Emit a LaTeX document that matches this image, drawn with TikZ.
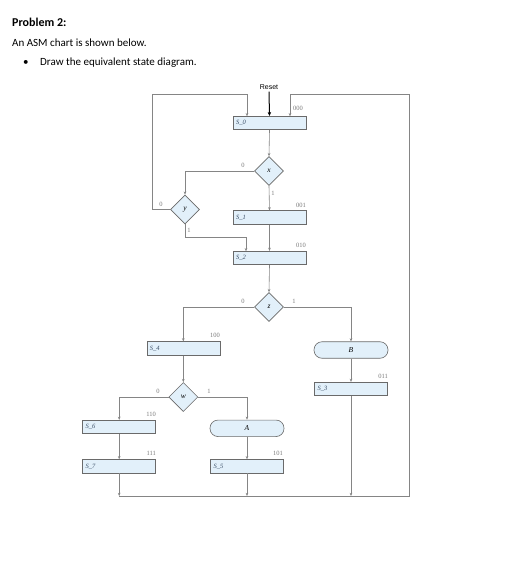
\documentclass[tikz,border=0pt]{standalone}
\usepackage{fontspec}
\setmainfont{Carlito}
\newfontfamily\chartserif{Liberation Serif}
\newfontfamily\chartsans{Liberation Sans}
\usetikzlibrary{shapes.geometric,arrows.meta}
\definecolor{boxfill}{HTML}{E2F0FA}
\definecolor{boxline}{HTML}{6A6A6A}
\definecolor{wire}{HTML}{858585}
\definecolor{codegray}{HTML}{7A7A7A}
\definecolor{statetext}{HTML}{3A4E66}
\begin{document}
\begin{tikzpicture}[x=1pt,y=-1pt,
  statebox/.style={draw=boxline, fill=boxfill, line width=0.6pt, minimum height=13.5pt,
     text width=67pt, inner xsep=3pt, inner ysep=0pt, align=left,
     font=\chartserif\itshape\fontsize{6.5}{7}\selectfont, text=statetext},
  decbox/.style={diamond, draw=boxline, fill=boxfill, line width=0.6pt, minimum width=29pt,
     minimum height=29pt, inner sep=0pt, font=\chartserif\itshape\fontsize{7.5}{8}\selectfont},
  outbox/.style={draw=boxline, fill=boxfill, line width=0.6pt, rounded corners=8pt,
     minimum width=74pt, minimum height=16.5pt, inner sep=0pt,
     font=\chartserif\itshape\fontsize{7.5}{8}\selectfont},
  wireline/.style={draw=wire, line width=0.6pt},
  conn/.style={wireline, -{Stealth[length=3.2pt,width=2.6pt]}},
  code/.style={font=\chartserif\fontsize{6.5}{7}\selectfont, text=codegray, inner sep=0pt},
  branch/.style={font=\chartserif\fontsize{6.5}{7}\selectfont, text=codegray, inner sep=0pt},
  hdr/.style={anchor=west, inner sep=0pt, font=\fontsize{11}{13}\selectfont}
]
\useasboundingbox (0,0) rectangle (504,580);
\fill[white] (0,0) rectangle (504,580);

% header
\node[hdr, font=\bfseries\fontsize{12}{14}\selectfont] (title) at (12,22) {Problem 2:};
\node[hdr] (intro) at (12,43) {An ASM chart is shown below.};
\node[hdr] (bullet) at (23,63) {•};
\node[hdr] (task) at (40,63) {Draw the equivalent state diagram.};

% states
\node[statebox] (s0) at (269.5,123) {S\_0};
\node[decbox] (dx) at (269,171) {x};
\node[decbox] (dy) at (185,209.5) {y};
\node[statebox] (s1) at (269.5,217.5) {S\_1};
\node[statebox] (s2) at (269.5,258) {S\_2};
\node[decbox] (dz) at (269,307) {z};
\node[statebox] (s4) at (183.3,348.5) {S\_4};
\node[outbox] (B) at (351,350) {B};
\node[statebox] (s3) at (351,389) {S\_3};
\node[decbox] (dw) at (183.3,397) {w};
\node[statebox] (s6) at (119.2,427) {S\_6};
\node[outbox] (A) at (247,428.3) {A};
\node[statebox] (s7) at (119.2,466.3) {S\_7};
\node[statebox] (s5) at (247,466.3) {S\_5};

% codes
\node[code, anchor=west] (c000) at (293,108) {000};
\node[code, anchor=east] (c001) at (306,205) {001};
\node[code, anchor=east] (c010) at (306,245) {010};
\node[code, anchor=east] (c100) at (220,335) {100};
\node[code, anchor=east] (c011) at (388,376.5) {011};
\node[code, anchor=east] (c110) at (156,414) {110};
\node[code, anchor=east] (c111) at (156,453) {111};
\node[code, anchor=east] (c101) at (283,453) {101};

% reset
\node[font=\chartsans\fontsize{7}{8}\selectfont, inner sep=0pt] (reset) at (269,87) {Reset};
\draw[black, line width=1pt, -{Stealth[length=4pt,width=3.5pt]}] (reset.south) ++(0,2) -- (s0.north);

% coordinates for bends
\coordinate (ltop) at (152,94);
\coordinate (s0inL) at (247,116.25);
\coordinate (s0inR) at (290,116.25);
\coordinate (yturn) at (246,237);
\coordinate (s2in) at (246,251.25);
\coordinate (bl) at (119.2,496);
\coordinate (br) at (409,496);
\coordinate (rtop) at (409,94);

% connectors
\draw[conn] (s0.south) -- (dx.north);
\draw[conn] (dx.west) -| (dy.north);
\draw[conn] (dx.south) -- (s1.north);
\draw[conn] (s1.south) -- (s2.north);
\draw[conn] (dy.west) -| (ltop) -| (s0inL);
\draw[conn] (dy.south) |- (yturn) -- (s2in);
\draw[conn] (s2.south) -- (dz.north);
\draw[conn] (dz.west) -| (s4.north);
\draw[conn] (dz.east) -| (B.north);
\draw[conn] (B.south) -- (s3.north);
\draw[conn] (s4.south) -- (dw.north);
\draw[conn] (dw.west) -| (s6.north);
\draw[conn] (dw.east) -| (A.north);
\draw[conn] (s6.south) -- (s7.north);
\draw[conn] (A.south) -- (s5.north);
\draw[conn] (s7.south) -- (bl);
\draw[conn] (s5.south) -- (s5.south |- bl);
\draw[conn] (s3.south) -- (s3.south |- bl);
\draw[conn] (bl) -- (br) -- (rtop) -| (s0inR);

% branch labels
\node[branch] (bx0) at (243,165) {0};
\node[branch] (bx1) at (273,193) {1};
\node[branch] (by0) at (161,204) {0};
\node[branch] (by1) at (189,230) {1};
\node[branch] (bz0) at (243,301) {0};
\node[branch] (bz1) at (294,301) {1};
\node[branch] (bw0) at (158,391) {0};
\node[branch] (bw1) at (209,391) {1};
\end{tikzpicture}
\end{document}
